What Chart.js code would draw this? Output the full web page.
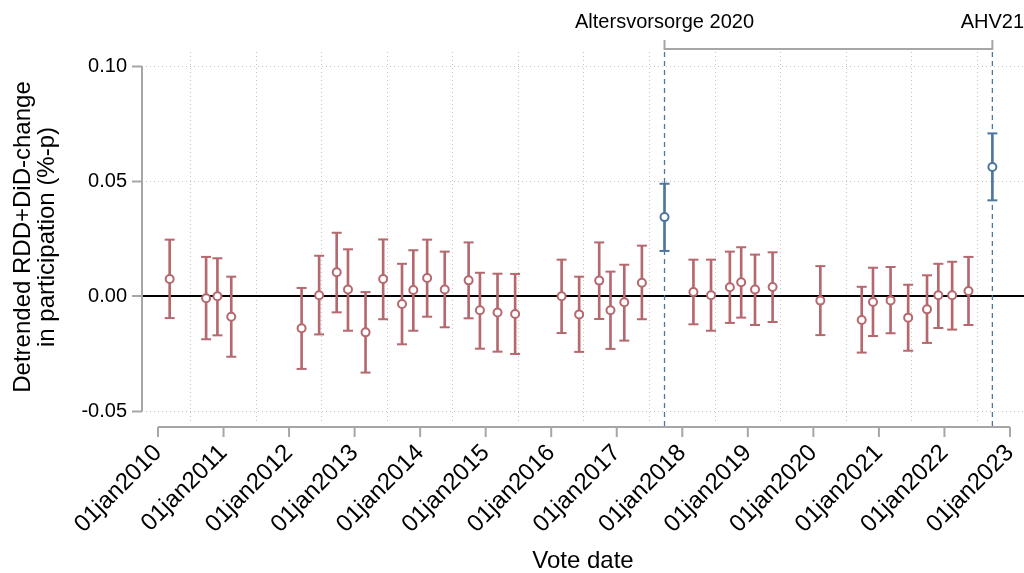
<!DOCTYPE html>
<html>
<head>
<meta charset="utf-8">
<script src="https://cdn.jsdelivr.net/npm/chart.js@4"></script>
<style>
  html, body { margin: 0; padding: 0; background: #fff; }
</style>
</head>
<body>
<canvas id="chart" width="1024" height="573"></canvas>
<script>
// Swiss federal vote dates and the estimated change with its confidence interval
const voteDates = [
  '2010-03-07', '2010-09-26', '2010-11-28', '2011-02-13',
  '2012-03-11', '2012-06-17', '2012-09-23', '2012-11-25',
  '2013-03-03', '2013-06-09', '2013-09-22', '2013-11-24',
  '2014-02-09', '2014-05-18', '2014-09-28', '2014-11-30',
  '2015-03-08', '2015-06-14',
  '2016-02-28', '2016-06-05', '2016-09-25', '2016-11-27',
  '2017-02-12', '2017-05-21', '2017-09-24',
  '2018-03-04', '2018-06-10', '2018-09-23', '2018-11-25',
  '2019-02-10', '2019-05-19',
  '2020-02-09', '2020-09-27', '2020-11-29',
  '2021-03-07', '2021-06-13', '2021-09-26', '2021-11-28',
  '2022-02-13', '2022-05-15', '2022-09-25'
];
const estimates = [
  0.0074, -0.0010, -0.0001, -0.0090,
  -0.0140, 0.0003, 0.0103, 0.0028,
  -0.0158, 0.0074, -0.0035, 0.0026,
  0.0078, 0.0028, 0.0068, -0.0062,
  -0.0072, -0.0078,
  -0.0001, -0.0080, 0.0067, -0.0062,
  -0.0027, 0.0058, 0.0343,
  0.0017, 0.0003, 0.0038, 0.0060,
  0.0028, 0.0039,
  -0.0020, -0.0104, -0.0026,
  -0.0019, -0.0094, -0.0058, 0.0003,
  0.0003, 0.0022, 0.0561
];
const ciLow = [
  -0.0096, -0.0188, -0.0171, -0.0264,
  -0.0317, -0.0167, -0.0071, -0.0151,
  -0.0333, -0.0101, -0.0210, -0.0151,
  -0.0090, -0.0136, -0.0097, -0.0229,
  -0.0242, -0.0252,
  -0.0161, -0.0243, -0.0100, -0.0230,
  -0.0194, -0.0101, 0.0196,
  -0.0123, -0.0151, -0.0117, -0.0094,
  -0.0126, -0.0113,
  -0.0170, -0.0246, -0.0174,
  -0.0162, -0.0238, -0.0204, -0.0139,
  -0.0146, -0.0126, 0.0416
];
const ciHigh = [
  0.0245, 0.0170, 0.0164, 0.0084,
  0.0035, 0.0175, 0.0275, 0.0203,
  0.0017, 0.0246, 0.0140, 0.0199,
  0.0245, 0.0193, 0.0233, 0.0101,
  0.0097, 0.0096,
  0.0158, 0.0084, 0.0233, 0.0106,
  0.0136, 0.0219, 0.0488,
  0.0158, 0.0158, 0.0193, 0.0212,
  0.0180, 0.0190,
  0.0130, 0.0040, 0.0123,
  0.0126, 0.0049, 0.0090, 0.0140,
  0.0149, 0.0170, 0.0707
];

// pension reform votes, marked on the top axis
const reformDates = ['2017-09-24', '2022-09-25'];
const reformLabels = ['Altersvorsorge 2020', 'AHV21'];

const xTickYears = [2010, 2011, 2012, 2013, 2014, 2015, 2016, 2017, 2018, 2019, 2020, 2021, 2022, 2023];
const yTickValues = [-0.05, 0, 0.05, 0.10];

const xRange = [2009.756, 2023.214];
const yRange = [-0.05478, 0.10609];

const red = 'rgb(181, 104, 110)';
const blue = 'rgb(78, 118, 160)';
const axisGray = '#a6a6a6';

// date string -> decimal year
function toYear(s) {
  const [y, m, d] = s.split('-').map(Number);
  const start = Date.UTC(y, 0, 1);
  const end = Date.UTC(y + 1, 0, 1);
  return y + (Date.UTC(y, m - 1, d) - start) / (end - start);
}

const xs = voteDates.map(toYear);
const colors = voteDates.map(d => reformDates.includes(d) ? blue : red);

// keep the plot area fixed, labels may hang over the edges
function noPadding(s) {
  s.paddingLeft = 0;
  s.paddingRight = 0;
  s.paddingTop = 0;
  s.paddingBottom = 0;
}

// spines, reform lines and the bracket on top
const axisLines = {
  id: 'axisLines',
  beforeDatasetsDraw(chart) {
    const { ctx, chartArea, scales } = chart;
    ctx.save();
    ctx.strokeStyle = blue;
    ctx.lineWidth = 1.3;
    ctx.setLineDash([5, 4]);
    reformDates.forEach(d => {
      const px = scales.x.getPixelForValue(toYear(d));
      ctx.beginPath();
      ctx.moveTo(px, chartArea.top);
      ctx.lineTo(px, chartArea.bottom + 5);
      ctx.stroke();
    });
    ctx.restore();
  },
  afterDraw(chart) {
    const { ctx, chartArea, scales } = chart;
    ctx.save();
    ctx.strokeStyle = axisGray;
    ctx.lineWidth = 2;

    // y spine
    const yTop = scales.y.getPixelForValue(Math.max(...yTickValues));
    const yBot = scales.y.getPixelForValue(Math.min(...yTickValues));
    ctx.beginPath();
    ctx.moveTo(chartArea.left, yTop);
    ctx.lineTo(chartArea.left, yBot);
    ctx.stroke();

    // x spine with ticks
    const sy = chartArea.bottom + 5;
    const x0 = scales.x.getPixelForValue(xTickYears[0]);
    const x1 = scales.x.getPixelForValue(xTickYears[xTickYears.length - 1]);
    ctx.beginPath();
    ctx.moveTo(x0, sy);
    ctx.lineTo(x1, sy);
    xTickYears.forEach(v => {
      const px = scales.x.getPixelForValue(v);
      ctx.moveTo(px, sy);
      ctx.lineTo(px, sy + 10);
    });
    ctx.stroke();

    // bracket between the two reform votes
    const by = chartArea.top - 3;
    const r0 = scales.x.getPixelForValue(toYear(reformDates[0]));
    const r1 = scales.x.getPixelForValue(toYear(reformDates[1]));
    ctx.beginPath();
    ctx.moveTo(r0, by - 9);
    ctx.lineTo(r0, by);
    ctx.lineTo(r1, by);
    ctx.lineTo(r1, by - 9);
    ctx.stroke();
    ctx.restore();
  }
};

const capStyle = {
  type: 'scatter',
  pointStyle: 'line',
  pointRadius: 5,
  pointBorderWidth: 2,
  borderColor: colors,
  pointBorderColor: colors
};

new Chart(document.getElementById('chart'), {
  type: 'scatter',
  data: {
    datasets: [
      {
        type: 'bar',
        data: xs.map((x, i) => ({ x: x, y: [ciLow[i], ciHigh[i]] })),
        backgroundColor: colors,
        barThickness: 2,
        grouped: false,
        order: 3
      },
      Object.assign({ data: xs.map((x, i) => ({ x: x, y: ciLow[i] })), order: 2 }, capStyle),
      Object.assign({ data: xs.map((x, i) => ({ x: x, y: ciHigh[i] })), order: 2 }, capStyle),
      {
        type: 'scatter',
        data: xs.map((x, i) => ({ x: x, y: estimates[i] })),
        pointStyle: 'circle',
        pointRadius: 4,
        pointBorderWidth: 2,
        pointBackgroundColor: '#fff',
        pointBorderColor: colors,
        order: 1
      }
    ]
  },
  options: {
    responsive: false,
    animation: false,
    layout: { padding: 0, autoPadding: false },
    plugins: {
      legend: { display: false },
      tooltip: { enabled: false }
    },
    scales: {
      x: {
        type: 'linear',
        position: 'bottom',
        min: xRange[0],
        max: xRange[1],
        offset: false,
        afterBuildTicks: s => { s.ticks = xTickYears.map(v => ({ value: v })); },
        afterFit: s => { s.height = 151; noPadding(s); },
        ticks: {
          callback: v => '01jan' + v,
          minRotation: 45,
          maxRotation: 45,
          autoSkip: false,
          color: '#000',
          padding: 2,
          font: { family: 'Liberation Sans', size: 24 }
        },
        grid: {
          color: '#c4c4c4',
          lineWidth: 1,
          tickLength: 15,
          tickColor: 'rgba(0,0,0,0)'
        },
        border: { display: false, dash: [1, 3] },
        title: {
          display: true,
          text: 'Vote date',
          color: '#000',
          padding: 0,
          font: { family: 'Liberation Sans', size: 24, lineHeight: 1.0 }
        }
      },
      x2: {
        type: 'linear',
        position: 'top',
        min: xRange[0],
        max: xRange[1],
        offset: false,
        afterBuildTicks: s => { s.ticks = reformDates.map(d => ({ value: toYear(d) })); },
        afterFit: s => { s.height = 52; noPadding(s); },
        ticks: {
          callback: (v, i) => reformLabels[i],
          minRotation: 0,
          maxRotation: 0,
          autoSkip: false,
          color: '#000',
          padding: 6,
          font: { family: 'Liberation Sans', size: 20 }
        },
        grid: { drawOnChartArea: false, tickLength: 12, tickColor: 'rgba(0,0,0,0)' },
        border: { display: false }
      },
      y: {
        type: 'linear',
        min: yRange[0],
        max: yRange[1],
        afterBuildTicks: s => { s.ticks = yTickValues.map(v => ({ value: v })); },
        afterFit: s => { s.width = 142; noPadding(s); },
        ticks: {
          callback: v => v.toFixed(2),
          color: '#000',
          padding: 5,
          font: { family: 'Liberation Sans', size: 20 }
        },
        grid: {
          color: c => c.tick && c.tick.value === 0 ? '#000' : '#c4c4c4',
          lineWidth: c => c.tick && c.tick.value === 0 ? 2 : 1,
          tickLength: 10,
          tickWidth: 2,
          tickColor: axisGray
        },
        border: {
          display: false,
          dash: c => c.tick && c.tick.value === 0 ? [] : [1, 3]
        },
        title: {
          display: true,
          text: ['Detrended RDD+DiD-change', 'in participation (%-p)'],
          color: '#000',
          padding: { top: 11, bottom: 0 },
          font: { family: 'Liberation Sans', size: 24, lineHeight: 1.0 }
        }
      }
    }
  },
  plugins: [axisLines]
});
</script>
</body>
</html>
